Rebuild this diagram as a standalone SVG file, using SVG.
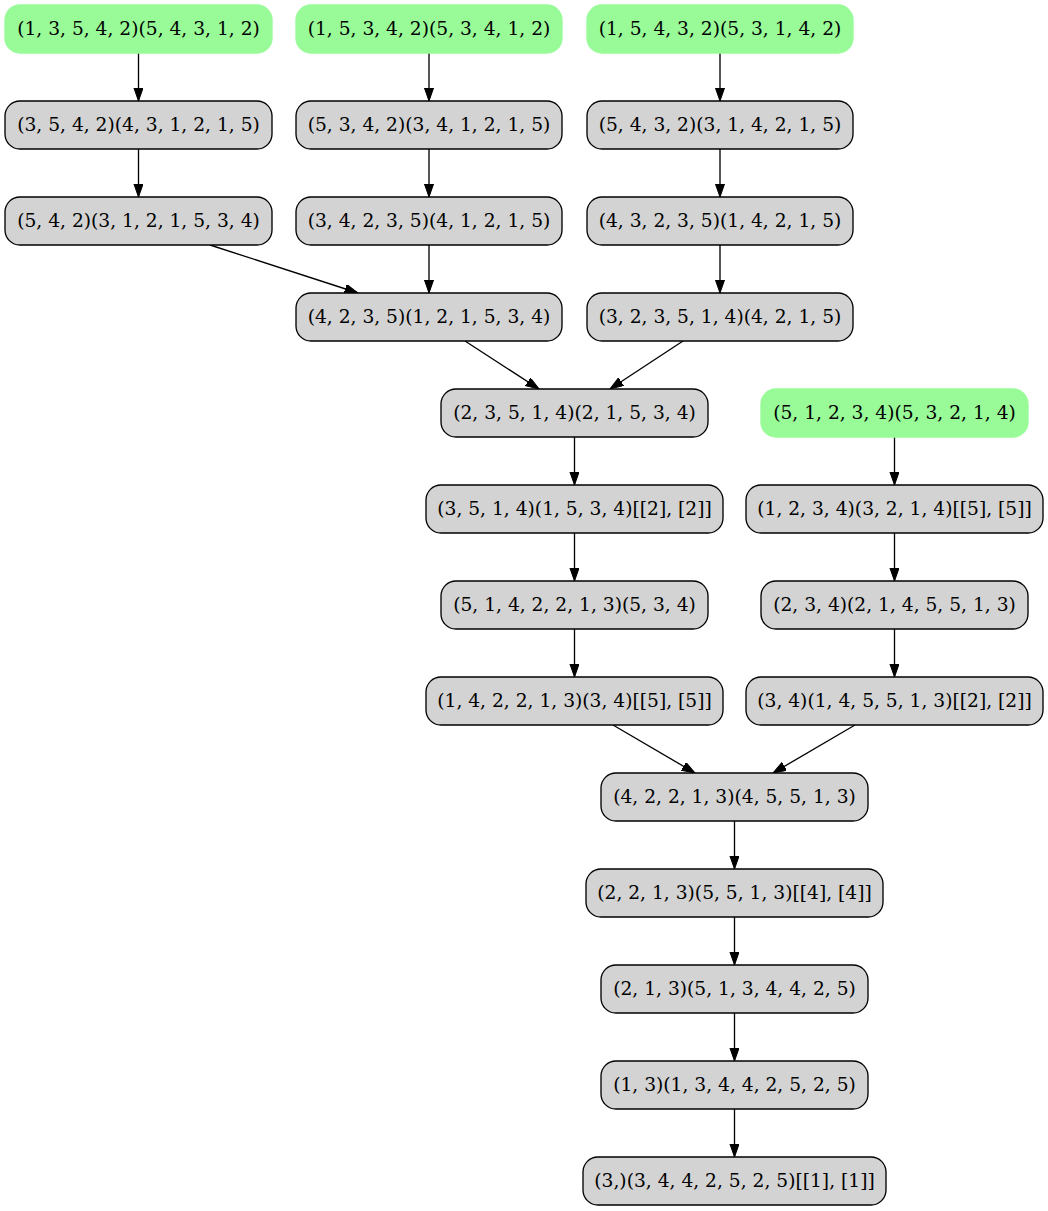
<svg xmlns="http://www.w3.org/2000/svg" width="1048" height="1211" viewBox="0 0 1048 1211">
  <style>
    .node rect { fill: #d3d3d3; stroke: #000; stroke-width: 1.33; }
    .start rect { fill: #98fb98; stroke: #98fb98; stroke-width: 1.33; }
    .node text { font-family: "DejaVu Serif", "Liberation Serif", serif; font-size: 18.67px; fill: #000; text-anchor: middle; }
    .edges line { stroke: #000; stroke-width: 1.33; fill: none; marker-end: url(#arrow); }
  </style>
  <defs>
    <marker id="arrow" markerUnits="userSpaceOnUse" markerWidth="14" markerHeight="10" refX="13.3" refY="4.67" orient="auto">
      <path d="M0,0 L13.3,4.67 L0,9.33 Z" fill="#000" stroke="#000" stroke-width="1"/>
    </marker>
  </defs>
  <rect width="1048" height="1211" fill="#fff"/>

  <!-- connectors -->
  <g id="edges" class="edges">
    <line x1="138.5" y1="53" x2="138.5" y2="101"/>
    <line x1="138.5" y1="149" x2="138.5" y2="197"/>
    <line x1="429" y1="53" x2="429" y2="101"/>
    <line x1="429" y1="149" x2="429" y2="197"/>
    <line x1="429" y1="245" x2="429" y2="293"/>
    <line x1="720" y1="53" x2="720" y2="101"/>
    <line x1="720" y1="149" x2="720" y2="197"/>
    <line x1="720" y1="245" x2="720" y2="293"/>
    <line x1="210" y1="245" x2="358" y2="293"/>
    <line x1="465" y1="341" x2="539" y2="389"/>
    <line x1="683" y1="341" x2="610" y2="389"/>
    <line x1="574.5" y1="437" x2="574.5" y2="485"/>
    <line x1="574.5" y1="533" x2="574.5" y2="581"/>
    <line x1="574.5" y1="629" x2="574.5" y2="677"/>
    <line x1="894.5" y1="437" x2="894.5" y2="485"/>
    <line x1="894.5" y1="533" x2="894.5" y2="581"/>
    <line x1="894.5" y1="629" x2="894.5" y2="677"/>
    <line x1="613" y1="725" x2="695" y2="773"/>
    <line x1="855" y1="725" x2="773" y2="773"/>
    <line x1="734.5" y1="821" x2="734.5" y2="869"/>
    <line x1="734.5" y1="917" x2="734.5" y2="965"/>
    <line x1="734.5" y1="1013" x2="734.5" y2="1061"/>
    <line x1="734.5" y1="1109" x2="734.5" y2="1157"/>
  </g>

  <!-- nodes -->
  <g id="n_a0" class="node start"><rect x="5" y="5" width="267" height="48" rx="15"/><text x="138.5" y="34.5">(1, 3, 5, 4, 2)(5, 4, 3, 1, 2)</text></g>
  <g id="n_b0" class="node start"><rect x="296" y="5" width="266" height="48" rx="15"/><text x="429" y="34.5">(1, 5, 3, 4, 2)(5, 3, 4, 1, 2)</text></g>
  <g id="n_c0" class="node start"><rect x="587" y="5" width="266" height="48" rx="15"/><text x="720" y="34.5">(1, 5, 4, 3, 2)(5, 3, 1, 4, 2)</text></g>

  <g id="n_a1" class="node"><rect x="5" y="101" width="267" height="48" rx="15"/><text x="138.5" y="130.5">(3, 5, 4, 2)(4, 3, 1, 2, 1, 5)</text></g>
  <g id="n_b1" class="node"><rect x="296" y="101" width="266" height="48" rx="15"/><text x="429" y="130.5">(5, 3, 4, 2)(3, 4, 1, 2, 1, 5)</text></g>
  <g id="n_c1" class="node"><rect x="587" y="101" width="266" height="48" rx="15"/><text x="720" y="130.5">(5, 4, 3, 2)(3, 1, 4, 2, 1, 5)</text></g>

  <g id="n_a2" class="node"><rect x="5" y="197" width="267" height="48" rx="15"/><text x="138.5" y="226.5">(5, 4, 2)(3, 1, 2, 1, 5, 3, 4)</text></g>
  <g id="n_b2" class="node"><rect x="296" y="197" width="266" height="48" rx="15"/><text x="429" y="226.5">(3, 4, 2, 3, 5)(4, 1, 2, 1, 5)</text></g>
  <g id="n_c2" class="node"><rect x="587" y="197" width="266" height="48" rx="15"/><text x="720" y="226.5">(4, 3, 2, 3, 5)(1, 4, 2, 1, 5)</text></g>

  <g id="n_d" class="node"><rect x="296" y="293" width="266" height="48" rx="15"/><text x="429" y="322.5">(4, 2, 3, 5)(1, 2, 1, 5, 3, 4)</text></g>
  <g id="n_e" class="node"><rect x="587" y="293" width="266" height="48" rx="15"/><text x="720" y="322.5">(3, 2, 3, 5, 1, 4)(4, 2, 1, 5)</text></g>

  <g id="n_f" class="node"><rect x="441" y="389" width="267" height="48" rx="15"/><text x="574.5" y="418.5">(2, 3, 5, 1, 4)(2, 1, 5, 3, 4)</text></g>
  <g id="n_g" class="node start"><rect x="761" y="389" width="267" height="48" rx="15"/><text x="894.5" y="418.5">(5, 1, 2, 3, 4)(5, 3, 2, 1, 4)</text></g>

  <g id="n_h" class="node"><rect x="426" y="485" width="297" height="48" rx="15"/><text x="574.5" y="514.5">(3, 5, 1, 4)(1, 5, 3, 4)[[2], [2]]</text></g>
  <g id="n_i" class="node"><rect x="746" y="485" width="297" height="48" rx="15"/><text x="894.5" y="514.5">(1, 2, 3, 4)(3, 2, 1, 4)[[5], [5]]</text></g>

  <g id="n_j" class="node"><rect x="441" y="581" width="267" height="48" rx="15"/><text x="574.5" y="610.5">(5, 1, 4, 2, 2, 1, 3)(5, 3, 4)</text></g>
  <g id="n_k" class="node"><rect x="761" y="581" width="267" height="48" rx="15"/><text x="894.5" y="610.5">(2, 3, 4)(2, 1, 4, 5, 5, 1, 3)</text></g>

  <g id="n_l" class="node"><rect x="426" y="677" width="297" height="48" rx="15"/><text x="574.5" y="706.5">(1, 4, 2, 2, 1, 3)(3, 4)[[5], [5]]</text></g>
  <g id="n_m" class="node"><rect x="746" y="677" width="297" height="48" rx="15"/><text x="894.5" y="706.5">(3, 4)(1, 4, 5, 5, 1, 3)[[2], [2]]</text></g>

  <g id="n_n" class="node"><rect x="601" y="773" width="267" height="48" rx="15"/><text x="734.5" y="802.5">(4, 2, 2, 1, 3)(4, 5, 5, 1, 3)</text></g>
  <g id="n_o" class="node"><rect x="586" y="869" width="297" height="48" rx="15"/><text x="734.5" y="898.5">(2, 2, 1, 3)(5, 5, 1, 3)[[4], [4]]</text></g>
  <g id="n_p" class="node"><rect x="601" y="965" width="267" height="48" rx="15"/><text x="734.5" y="994.5">(2, 1, 3)(5, 1, 3, 4, 4, 2, 5)</text></g>
  <g id="n_q" class="node"><rect x="601" y="1061" width="267" height="48" rx="15"/><text x="734.5" y="1090.5">(1, 3)(1, 3, 4, 4, 2, 5, 2, 5)</text></g>
  <g id="n_r" class="node"><rect x="583" y="1157" width="303" height="48" rx="15"/><text x="734.5" y="1186.5">(3,)(3, 4, 4, 2, 5, 2, 5)[[1], [1]]</text></g>
</svg>
